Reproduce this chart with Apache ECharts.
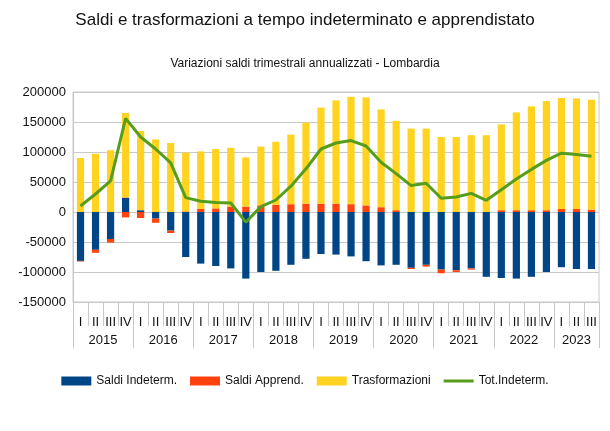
<!DOCTYPE html>
<html><head><meta charset="utf-8">
<script src="https://cdn.jsdelivr.net/npm/echarts@6/dist/echarts.min.js"></script>
<style>html,body{margin:0;padding:0;background:#fff}#c{width:610px;height:431px}</style>
</head><body><div id="c"></div>
<script>
const quarters = ["I","II","III","IV","I","II","III","IV","I","II","III","IV","I","II","III","IV","I","II","III","IV","I","II","III","IV","I","II","III","IV","I","II","III","IV","I","II","III"];
const years = ["2015","2016","2017","2018","2019","2020","2021","2022","2023"];
const yearStarts = [0,4,8,12,16,20,24,28,32,35];
const saldiIndeterm = [-81500,-63000,-45000,24000,3000,-11000,-31000,-75000,-86000,-90000,-94000,-111000,-100000,-98000,-88000,-78000,-70000,-71000,-74000,-82000,-89000,-88000,-93000,-88000,-96000,-97000,-94000,-108000,-110000,-111000,-108000,-100000,-92000,-95000,-95000];
const saldiApprend = [-1000,-5000,-6000,-9000,-10000,-7000,-4000,1000,5000,6000,9000,9000,11000,12000,13000,14000,14000,14000,13000,11000,8000,3000,-2000,-3000,-6000,-3000,-2000,0,3000,3000,3000,3000,5000,5000,4000];
const trasformazioni = [90000,97000,103000,141000,132000,121000,115000,98000,96000,99000,98000,82000,98000,105000,116000,135000,160000,172000,179000,180000,163000,149000,139000,139000,125000,125000,128000,128000,143000,163000,173000,182000,185000,184000,183000];
const totIndeterm = [10000,30000,52000,156000,125000,105000,82000,24000,18000,16000,15000,-17000,9000,20000,43000,72000,105000,115000,119000,110000,83000,64000,44000,48000,23000,25000,31000,19500,37000,55000,71000,86000,98000,96000,93000];
const yTicks = {min:-150000, max:200000, interval:50000};

const FONT = '"Liberation Sans",Arial,sans-serif';
const GRID = '#c8c8c8';
const yearLabelPos = years.map((y,i)=> (yearStarts[i]+yearStarts[i+1])/2);

const chart = echarts.init(document.getElementById('c'), null, {renderer:'canvas'});
chart.setOption({
  animation:false,
  backgroundColor:'#fff',
  textStyle:{fontFamily:FONT},
  title:[
    {text:'Saldi e trasformazioni a tempo indeterminato e apprendistato', left:'center', top:7,
     textStyle:{fontFamily:FONT, fontSize:17, fontWeight:'normal', color:'#111'}},
    {text:'Variazioni saldi trimestrali annualizzati - Lombardia', left:'center', top:53,
     textStyle:{fontFamily:FONT, fontSize:12, fontWeight:'normal', color:'#111'}}
  ],
  legend:{
    bottom:39, left:'center', itemWidth:30, itemHeight:9, itemGap:13,
    textStyle:{fontFamily:FONT, fontSize:12, color:'#111'},
    data:[
      {name:'Saldi Indeterm.', icon:'rect'},
      {name:'Saldi Apprend.', icon:'rect'},
      {name:'Trasformazioni', icon:'rect'},
      {name:'Tot.Indeterm.', icon:'path://M0,0 L30,0 L30,3 L0,3 Z'}
    ]
  },
  grid:{left:73, right:11, top:92, bottom:129, show:true, borderColor:GRID, borderWidth:1},
  xAxis:[
    {type:'category', data:quarters, position:'bottom', boundaryGap:true,
     axisLine:{show:true, onZero:false, lineStyle:{color:GRID}},
     axisTick:{show:true, interval:0, length:24, lineStyle:{color:GRID}},
     axisLabel:{interval:0, margin:14, fontFamily:FONT, fontSize:13, color:'#111'}},
    {type:'value', min:0, max:35, position:'bottom',
     axisLine:{show:false, onZero:false}, splitLine:{show:false},
     axisTick:{show:true, customValues:yearStarts, length:46, lineStyle:{color:GRID}},
     axisLabel:{customValues:yearLabelPos, margin:32, fontFamily:FONT, fontSize:13, color:'#111',
       formatter:(v)=>{const i=yearLabelPos.indexOf(v); return i>=0?years[i]:'';}}}
  ],
  yAxis:{type:'value', min:yTicks.min, max:yTicks.max, interval:yTicks.interval,
    axisLine:{show:true, onZero:false, lineStyle:{color:GRID}},
    axisTick:{show:false},
    splitLine:{lineStyle:{color:GRID}},
    axisLabel:{fontFamily:FONT, fontSize:13, color:'#111', margin:7, formatter:(v)=>String(v)}},
  series:[
    {name:'Saldi Indeterm.', type:'bar', stack:'s', data:saldiIndeterm, barWidth:'48%', itemStyle:{color:'#004586'}},
    {name:'Saldi Apprend.', type:'bar', stack:'s', data:saldiApprend, itemStyle:{color:'#ff420e'}},
    {name:'Trasformazioni', type:'bar', stack:'s', data:trasformazioni, itemStyle:{color:'#ffd320'}},
    {name:'Tot.Indeterm.', type:'line', data:totIndeterm, symbol:'none', z:5,
     lineStyle:{color:'#579d1c', width:3}, itemStyle:{color:'#579d1c'}}
  ]
});
</script></body></html>
